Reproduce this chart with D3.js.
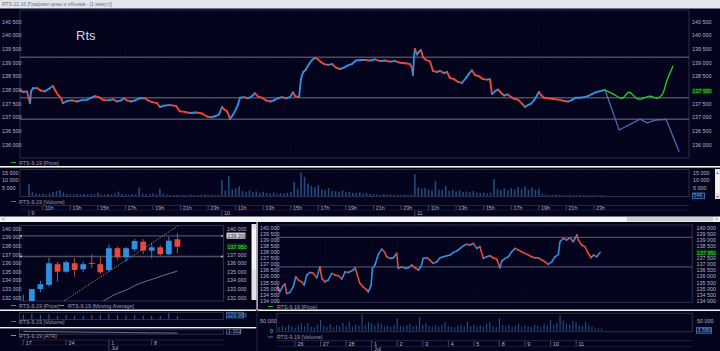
<!DOCTYPE html>
<html><head><meta charset="utf-8">
<script src="https://cdn.jsdelivr.net/npm/d3@7"></script>
<style>body{margin:0;background:#03031c}svg{display:block}text{font-family:"Liberation Sans",Arial,sans-serif}</style>
</head><body><svg id="c" width="720" height="351"></svg>
<script>
// ===== DATA =====
// Main chart (1-minute, session hours from 10:00 of Jul 9; each day = 14 h)
const mainHours = [-0.65,-0.43,-0.14,0.08,0.15,0.29,0.58,0.87,1.16,1.45,1.74,1.89,2.11,2.33,2.47,2.76,3.12,3.49,3.85,4.21,4.43,4.79,5.08,5.37,5.74,6.10,6.39,6.68,6.90,7.11,7.41,7.70,8.06,8.42,8.64,8.93,9.29,9.51,9.80,10.24,10.67,10.96,11.32,11.69,12.12,12.56,12.92,13.21,13.50,13.79,14.01,14.15,14.37,14.52,14.59,14.81,15.02,15.17,15.31,15.61,15.90,16.19,16.40,16.62,16.91,17.20,17.49,17.78,18.07,18.36,18.65,18.94,19.16,19.31,19.60,19.74,19.89,20.10,20.32,20.54,20.76,20.98,21.19,21.41,21.70,21.99,22.28,22.57,22.86,23.15,23.44,23.73,24.02,24.39,24.75,25.11,25.48,25.84,26.20,26.57,26.93,27.29,27.65,27.80,27.87,27.94,28.01,28.16,28.30,28.45,28.60,28.81,29.10,29.32,29.61,29.83,30.12,30.34,30.55,30.84,31.13,31.42,31.72,31.93,32.15,32.37,32.66,32.95,33.24,33.46,33.60,33.82,34.04,34.26,34.47,34.76,34.98,35.20,35.49,35.78,36.00,36.22,36.43,36.65,36.87,37.01,37.16,37.38,37.67,37.96,38.25,38.54,38.83,39.12,39.41,39.70,39.99,40.28,40.57,40.86,41.15,41.44,41.81];
const mainPrices = [138.00,137.93,137.95,137.52,137.95,138.07,138.07,137.98,137.95,138.05,138.15,138.00,137.82,137.70,137.52,137.60,137.62,137.58,137.63,137.64,137.70,137.78,137.74,137.64,137.62,137.66,137.58,137.62,137.70,137.62,137.58,137.62,137.70,137.70,137.62,137.56,137.52,137.38,137.43,137.45,137.42,137.22,137.20,137.16,137.18,137.14,137.03,137.00,137.04,137.10,137.38,137.30,137.22,137.05,136.94,137.10,137.30,137.46,137.72,137.74,137.70,137.78,137.88,137.76,137.72,137.62,137.58,137.62,137.70,137.74,137.70,137.74,137.92,137.78,137.74,138.40,138.65,138.75,138.95,139.10,139.18,139.12,139.02,138.95,138.92,138.95,138.82,138.77,138.82,138.90,138.95,139.08,139.10,139.10,139.08,139.12,139.06,139.08,139.04,139.06,139.00,138.98,138.95,138.80,138.55,139.20,139.50,139.30,139.40,139.46,139.20,139.10,139.05,138.70,138.66,138.70,138.62,138.66,138.44,138.40,138.30,138.26,138.44,138.60,138.72,138.55,138.50,138.40,138.38,138.40,137.85,137.95,138.02,137.90,137.80,137.84,137.75,137.68,137.65,137.50,137.38,137.45,137.50,137.62,137.80,137.93,137.82,137.72,137.70,137.68,137.66,137.64,137.60,137.58,137.64,137.72,137.72,137.74,137.78,137.85,137.92,137.96,138.00];
const fcUpHours = [41.81,42.31,43.04,43.55,44.20,45.07,45.58,45.94,46.31,46.74];
const fcUpPrices = [138.00,137.88,137.70,137.92,137.67,137.78,137.70,137.82,138.37,138.88];
const fcDownHours = [41.81,42.83,44.35,44.86,45.44,46.24,47.18];
const fcDownPrices = [138.00,136.54,136.93,136.80,136.90,136.93,135.74];
const mainLevels = [139.20,137.72,136.93];
const lastPrice = 137.95;
// Volume, 15-minute bars, thousands
const vol9 = [7.8,2.4,1.6,1.2,1.5,1.0,1.8,2.6,3.2,3.8,2.2,1.4,1.1,0.9,1.2,0.9,1.3,1.0,1.4,1.1,2.2,1.0,0.8,1.4,1.0,1.6,2.8,1.2,1.0,0.8,1.3,1.1,5.4,1.5,1.1,1.0,1.8,1.2,4.7,1.4,0.9,0.7,0.6,0.8,0.5,0.7,0.6,0.9,0.5,0.6,0.8,1.1,0.7,0.9,0.6,0.8];
const vol10 = [10.2,3.5,13.0,4.0,4.8,6.3,3.2,2.8,3.6,2.4,2.9,2.0,2.6,1.8,1.6,2.2,1.4,1.8,1.5,2.0,2.6,9.1,4.5,15.2,12.4,8.0,6.5,5.6,7.0,4.2,3.8,5.0,3.4,3.0,2.6,3.6,2.2,2.8,2.0,1.8,2.4,1.5,1.8,1.2,1.4,1.0,0.9,1.2,0.8,1.0,0.7,0.9,0.6,1.0,0.7,0.8];
const vol11 = [14.1,5.5,4.8,5.2,4.0,3.6,9.8,4.2,3.8,6.4,3.2,4.0,2.8,3.5,2.6,3.0,2.4,3.2,2.0,1.8,2.2,1.6,2.0,10.9,4.6,3.8,4.8,3.6,5.0,4.2,5.8,4.4,6.2,4.0,5.4,3.8,4.6,1.2,0.9,0.7,0.8,1.0,0.6,0.7,0.5,0.8,0.6,0.5,0.7,0.4,0.6,0.5,0.6,0.4,0.5,0.3];
const dayLabels = ["9","10","11"];
const hourLabels = [11,13,15,17,19,21,23];

// Daily chart (bottom left)
const dDates = ["17","18","19","20","21","24","25","26","27","28","1","2","3","4","5","8","9","10","11"];
const dOpen  = [130.90,131.00,133.02,133.49,135.90,135.03,136.01,135.31,136.05,135.90,135.23,137.76,136.71,137.64,138.52,137.48,137.87,137.06,138.80];
const dHigh  = [132.35,133.05,133.95,136.66,136.20,136.30,136.60,136.20,137.05,136.78,138.20,137.94,137.90,138.84,138.84,138.34,138.14,139.10,139.50];
const dLow   = [130.80,130.90,132.64,133.29,133.87,134.90,134.45,134.96,135.43,134.73,135.03,136.40,136.20,137.36,137.10,136.60,136.90,136.98,137.17];
const dClose = [131.50,133.00,133.57,136.01,135.03,136.13,135.23,135.90,135.98,134.96,137.76,136.71,137.76,138.60,137.48,137.87,137.06,138.64,137.94];
const dMA = [null,null,null,null,null,null,null,null,null,131.40,132.00,132.50,132.88,133.40,133.80,134.13,134.47,134.80,135.10];
const dVol = [420,510,380,460,330,400,350,300,380,420,480,390,360,410,350,320,300,560,330];
const dATR = [1.62,1.60,1.58,1.57,1.55,1.52,1.50,1.48,1.46,1.44,1.45,1.42,1.40,1.37,1.35,1.33,1.32,1.31,1.30];
const trendIdx = [4.0,18.5];
const trendPrice = [131.11,140.65];
const dLevels = [139.20,136.80];
const dAxisIdx = [0,5,10,15];

// Hourly chart (bottom right), t in trading days from Jun 26
const hT = [-0.68,-0.60,-0.46,-0.39,-0.33,-0.20,-0.07,0.03,0.13,0.26,0.36,0.46,0.59,0.72,0.85,0.98,1.05,1.17,1.30,1.44,1.57,1.70,1.83,1.96,2.09,2.28,2.35,2.42,2.54,2.67,2.81,2.87,2.98,3.03,3.13,3.26,3.39,3.50,3.59,3.72,3.85,3.98,4.04,4.18,4.31,4.43,4.57,4.70,4.83,4.93,5.02,5.16,5.28,5.41,5.55,5.68,5.80,5.94,6.07,6.20,6.33,6.46,6.59,6.72,6.85,6.98,7.11,7.24,7.37,7.50,7.63,7.76,7.89,8.02,8.09,8.22,8.35,8.48,8.61,8.74,8.87,9.00,9.13,9.26,9.39,9.52,9.66,9.79,9.91,10.05,10.18,10.31,10.37,10.50,10.63,10.76,10.89,11.03,11.09,11.22,11.35,11.48,11.59,11.68,11.81,11.94];
const hP = [135.16,134.75,135.25,135.39,134.62,134.70,135.16,135.98,135.71,135.57,135.30,136.12,136.34,136.26,135.90,136.80,135.85,135.57,135.71,136.26,136.12,136.07,135.80,136.39,136.34,136.53,136.72,136.26,135.44,135.16,134.89,134.75,135.30,136.67,136.94,137.82,138.25,138.03,137.62,137.49,137.54,137.90,136.67,136.80,136.67,136.72,136.94,136.72,136.53,136.80,137.49,137.54,137.35,137.08,137.21,137.54,137.62,137.70,137.76,137.98,138.09,138.31,138.52,138.64,138.58,138.72,138.31,138.44,137.49,137.62,137.70,137.54,137.43,136.72,137.27,137.49,137.62,138.03,138.31,138.17,138.03,137.90,137.76,137.62,137.54,137.54,137.35,137.21,137.00,137.21,137.62,137.82,138.85,139.13,138.99,139.18,138.85,139.40,138.99,138.58,138.44,137.90,137.54,137.76,137.62,137.98];
const hVol = [20,25,18,30,22,15,28,38,25,40,22,18,30,55,25,20,35,18,28,22,40,24,46,20,32,26,81,30,45,38,28,40,35,22,26,18,30,64,24,20,28,35,22,26,72,30,38,24,20,28,22,30,45,25,20,18,26,30,22,46,24,30,20,28,22,36,46,24,20,64,28,22,30,18,24,35,20,26,22,18,30,25,20,36,28,55,30,40,81,52,38,30,50,44,28,24,47,30,22,15,12,10];
const hDays = ["26","27","28","1","2","3","4","5","8","9","10","11"];
const hLevels = [139.20,136.80];

// ===== DRAW =====
const svg = d3.select("#c");
const BG="#03031c", FRAME="#2d2d50", GRID="#0e0e36", LBL="#b4b4c6", LEG="#9a9ab4",
      RED="#e5493b", BLUE="#2f90de", LEVEL="#4c4c60", VOLC="#214d7e";
const loc = d3.formatLocale({decimal:".",thousands:" ",grouping:[3],currency:["",""]});
const fI = loc.format(",d");
const fP = v => fI(Math.round(v*1000));

function T(x,y,s,o={}){
  return svg.append("text").attr("x",x).attr("y",y).text(s)
    .attr("font-size",o.size||5.4).attr("fill",o.fill||LBL)
    .attr("text-anchor",o.anchor||"start").attr("font-weight",o.weight||"normal");
}
function R(x,y,w,h,fill,stroke){
  const r=svg.append("rect").attr("x",x).attr("y",y).attr("width",w).attr("height",h).attr("fill",fill||"none");
  if(stroke) r.attr("stroke",stroke).attr("stroke-width",1);
  return r;
}
function L(x1,y1,x2,y2,c,w,dash){
  const l=svg.append("line").attr("x1",x1).attr("y1",y1).attr("x2",x2).attr("y2",y2).attr("stroke",c).attr("stroke-width",w||1);
  if(dash) l.attr("stroke-dasharray",dash);
  return l;
}
function clip(id,x,y,w,h){
  svg.append("clipPath").attr("id",id).append("rect").attr("x",x).attr("y",y).attr("width",w).attr("height",h);
  return svg.append("g").attr("clip-path",`url(#${id})`);
}
function series(g,xs,ys,xs_,ys_,w){
  for(let i=1;i<xs.length;i++){
    g.append("line").attr("x1",xs_(xs[i-1])).attr("y1",ys_(ys[i-1]))
      .attr("x2",xs_(xs[i])).attr("y2",ys_(ys[i]))
      .attr("stroke",ys[i]>=ys[i-1]?BLUE:RED).attr("stroke-width",w).attr("stroke-linecap","round");
  }
}
function priceBox(x,y,s,fill,bg,stroke){
  R(x-0.5,y-3.3,19,6.2,bg,stroke);
  T(x+0.5,y+1.9,s,{fill});
}

R(0,0,720,351,BG);
// title bar
R(0,0,720,8.5,"#e1e6ed");
T(2,6.3,"RTS-12.16 [Графики цены и объема - [1 минут]]",{fill:"#707080",size:5});

// ---- main price panel ----
const xM = d3.scaleLinear().domain([-0.65,47.9]).range([20,689]);
const yM = d3.scaleLinear().domain([136,140.5]).range([144.7,21.7]);
const mTicks = d3.range(136,140.51,0.5);
mTicks.forEach(v=>L(20,yM(v),689,yM(v),GRID,0.8,"1,2"));
const hourPos=[];
[0,14,28].forEach(d0=>hourLabels.forEach(h=>hourPos.push({h:d0+h-10,lab:h+"h"})));
hourPos.forEach(p=>L(xM(p.h),10,xM(p.h),158,GRID,0.8,"1,2"));
R(20,10,669,148,"none",FRAME);
mainLevels.forEach(v=>L(20,yM(v),689,yM(v),LEVEL,1.4));
T(76,40,"Rts",{size:13,fill:"#d6d6e2"});
const gM = clip("cm",20,10,669,148);
series(gM,mainHours,mainPrices,xM,yM,1.9);
const lineGen=(xs,ys)=>d3.line().x(i=>xM(xs[i])).y(i=>yM(ys[i]));
gM.append("path").attr("d",lineGen(fcUpHours,fcUpPrices).curve(d3.curveCatmullRom)(d3.range(fcUpHours.length)))
  .attr("fill","none").attr("stroke","#27d827").attr("stroke-width",1.3);
gM.append("path").attr("d",lineGen(fcDownHours,fcDownPrices)(d3.range(fcDownHours.length)))
  .attr("fill","none").attr("stroke","#4d72c6").attr("stroke-width",1.2);
mTicks.forEach(v=>{
  T(2,yM(v)+1.9,fP(v));
  if(Math.abs(yM(v)-yM(lastPrice))>5) T(692,yM(v)+1.9,fP(v));
});
priceBox(692,yM(lastPrice),fP(lastPrice),"#3cf03c","#08300c");
L(11,162.5,16,162.5,"#2fae2f",1);
T(19,164.5,"RTS-9.19 [Price]",{fill:LEG});

// separator
R(0,166,720,1.6,"#f2f2f2");

// ---- main volume panel ----
const yV = d3.scaleLinear().domain([0,15]).range([195.9,172.9]);
[5,10,15].forEach(v=>L(20,yV(v),689,yV(v),GRID,0.8,"1,2"));
hourPos.forEach(p=>L(xM(p.h),169.5,xM(p.h),196.5,GRID,0.8,"1,2"));
R(20,169.5,669,27,"none",FRAME);
const gV = clip("cv",20,169.5,669,27);
[[vol9,0],[vol10,14],[vol11,28]].forEach(([arr,d0])=>{
  arr.forEach((v,i)=>{
    const x=xM(d0+i*0.25);
    gV.append("rect").attr("x",x-0.8).attr("y",yV(v)).attr("width",1.6).attr("height",yV(0)-yV(v)).attr("fill",VOLC);
  });
});
[5,10,15].forEach(v=>{T(2,yV(v)+1.9,fI(v*1000));T(693,yV(v)+1.9,fI(v*1000));});
R(692.5,193,12,5.6,"#0a1838","#3a6aa8");
T(693.5,197.4,"546",{fill:"#5aa2ea"});
L(11,201.5,16,201.5,"#3a78c0",1);
T(19,203.5,"RTS-9.19 [Volume]",{fill:LEG});
// vertical scrollbar
R(715,169,5,30,"#e4e4e4");
R(715.5,175,4,18,"#f4f4f4");
T(717.5,173.5,"▲",{size:3.5,fill:"#666",anchor:"middle"});
T(717.5,198,"▼",{size:3.5,fill:"#666",anchor:"middle"});
// time axis
L(20,205.5,689,205.5,FRAME,0.8);
hourPos.forEach(p=>{const x=xM(p.h);L(x,205.5,x,210,"#55557a",0.8);T(x+2.2,209.6,p.lab);});
[0,14,28].forEach((d0,i)=>{const x=xM(d0);L(x,210,x,216,"#55557a",0.8);T(x+2.2,214.8,dayLabels[i]);});
L(20,210,689,210,FRAME,0.5);
// horizontal scrollbar
R(0,216.5,720,5.5,"#f3f3f3");
R(627,217,86,4.5,"#cfcfcf");
T(2,221,"<",{size:5,fill:"#555"});
T(715,221,">",{size:5,fill:"#555"});

// ---- bottom-left daily window ----
const xD = d3.scaleLinear().domain([0,18]).range([23.3,177.4]);
const yD = d3.scaleLinear().domain([132,140]).range([297.7,229]);
const dTicks = d3.range(132,140.01,1);
dTicks.forEach(v=>L(19.5,yD(v),223.5,yD(v),GRID,0.8,"1,2"));
dAxisIdx.forEach(i=>L(xD(i),225.5,xD(i),301,GRID,0.8,"1,2"));
R(19.5,225.5,204,75.5,"none",FRAME);
dLevels.forEach(v=>{L(19.5,yD(v),223.5,yD(v),LEVEL,1.3);
  svg.append("circle").attr("cx",21).attr("cy",yD(v)).attr("r",0.9).attr("fill","#ccc");
  svg.append("circle").attr("cx",222).attr("cy",yD(v)).attr("r",0.9).attr("fill","#ccc");});
const gD = clip("cd",19.5,225.5,204,75.5);
dDates.forEach((d,i)=>{
  const up=dClose[i]>=dOpen[i], c=up?BLUE:RED, x=xD(i);
  gD.append("line").attr("x1",x).attr("x2",x).attr("y1",yD(dHigh[i])).attr("y2",yD(dLow[i])).attr("stroke",c).attr("stroke-width",0.9);
  const y1=yD(Math.max(dOpen[i],dClose[i])), y2=yD(Math.min(dOpen[i],dClose[i]));
  gD.append("rect").attr("x",x-2.9).attr("y",y1).attr("width",5.8).attr("height",Math.max(1,y2-y1)).attr("fill",c);
});
const maIdx=d3.range(dMA.length).filter(i=>dMA[i]!==null);
gD.append("path").attr("d",d3.line().x(i=>xD(i)).y(i=>yD(dMA[i])).curve(d3.curveMonotoneX)(maIdx))
  .attr("fill","none").attr("stroke","#8a8fa0").attr("stroke-width",0.8);
gD.append("line").attr("x1",xD(trendIdx[0])).attr("y1",yD(trendPrice[0])).attr("x2",xD(trendIdx[1])).attr("y2",yD(trendPrice[1]))
  .attr("stroke","#c98a88").attr("stroke-width",0.9).attr("stroke-dasharray","1.2,1.4");
dTicks.forEach(v=>{
  T(2,yD(v)+1.9,fP(v));
  if(Math.abs(yD(v)-yD(lastPrice))>4 && Math.abs(yD(v)-yD(dLevels[0]))>4) T(227,yD(v)+1.9,fP(v));
});
priceBox(227,yD(dLevels[0]),fP(dLevels[0]),"#303040","#cfcfd6");
priceBox(227,yD(lastPrice),fP(lastPrice),"#3cf03c","#08300c");
L(11,305.5,16,305.5,"#2fae2f",1);
T(19,307.5,"RTS-9.19 [Price]",{fill:LEG});
L(59,305.5,64,305.5,"#8a8fa0",1);
T(68,307.5,"RTS-9.19 [Moving Average]",{fill:LEG});
// scrollbar
R(251.5,224,5,76,"#e2e2e2");
R(252,229,4,40,"#f5f5f5");
R(0,309.5,256.5,1.5,"#f2f2f2");
// daily volume
const yDV = d3.scaleLinear().domain([0,600]).range([319.3,312.8]);
R(19.5,312.5,204,7,"none",FRAME);
dVol.forEach((v,i)=>L(xD(i),yDV(0),xD(i),yDV(v),"#4f78a8",0.8));
R(226.5,312.3,17,5.6,"#0a1838","#3a6aa8");
T(227.3,316.7,fI(329963),{fill:"#5aa2ea"});
L(11,321.5,16,321.5,"#3a78c0",1);
T(19,323.5,"RTS-9.19 [Volume]",{fill:LEG});
R(0,327,256.5,1.4,"#f2f2f2");
// ATR
const yA = d3.scaleLinear().domain([1.0,2.0]).range([334.5,329.5]);
R(19.5,329.8,204,4.4,"none",FRAME);
svg.append("path").attr("d",d3.line().x((d,i)=>xD(i)).y(d=>yA(d))(dATR)).attr("fill","none").attr("stroke","#8a8fa0").attr("stroke-width",0.8);
R(226.5,328.8,14,5.4,"#0a0a24","#55557a");
T(228,333,fI(1302),{fill:"#9a9ab4"});
L(11,335.5,16,335.5,"#8a8fa0",1);
T(19,337.5,"RTS-9.19 [ATR]",{fill:LEG});
// daily axis
L(19.5,340,223.5,340,FRAME,0.8);
dAxisIdx.forEach(i=>{const x=xD(i);L(x,340,x,345,"#55557a",0.8);T(x+2.4,344.5,dDates[i]);});
L(xD(10),345,xD(10),351,"#55557a",0.8);
T(xD(10)+2.4,350.3,"Jul");
L(19.5,345,223.5,345,FRAME,0.5);

// divider between windows
R(256.5,222,1.2,88,"#e8e8e8");
R(256.5,310,1.2,41,"#20203a");

// ---- bottom-right hourly window ----
const xH = d3.scaleLinear().domain([0,1]).range([295,320.55]);
const yH = d3.scaleLinear().domain([134,140]).range([301,227.7]);
const hTicks = d3.range(134,140.01,0.5);
hTicks.forEach(v=>L(276.7,yH(v),692.3,yH(v),GRID,0.8,"1,2"));
hDays.forEach((d,i)=>L(xH(i),225,xH(i),302.3,GRID,0.8,"1,2"));
R(276.7,225,415.6,77.3,"none",FRAME);
hLevels.forEach(v=>L(276.7,yH(v),692.3,yH(v),LEVEL,1.3));
const gH = clip("ch",276.7,225,415.6,77.3);
series(gH,hT,hP,xH,yH,1.6);
hTicks.forEach(v=>{
  T(260,yH(v)+1.9,fP(v));
  if(Math.abs(yH(v)-yH(lastPrice))>4) T(696.5,yH(v)+1.9,fP(v));
});
priceBox(696.5,yH(lastPrice),fP(lastPrice),"#3cf03c","#08300c");
L(268,306.5,273,306.5,"#2fae2f",1);
T(277,308.5,"RTS-9.19 [Price]",{fill:LEG});
R(257.7,309.5,462.3,1.5,"#f2f2f2");
// hourly volume
const yHV = d3.scaleLinear().domain([0,50]).range([330.7,321]);
R(276.7,313.3,415.6,18.4,"none",FRAME);
const gHV = clip("chv",276.7,313.3,415.6,18.4);
hVol.forEach((v,i)=>{
  const x=xH(-0.625+i*0.125);
  gHV.append("rect").attr("x",x-0.6).attr("y",yHV(v)).attr("width",1.2).attr("height",yHV(0)-yHV(v)).attr("fill",VOLC);
});
T(260,yHV(50)+1.9,fI(50000));
T(270,yHV(0)+1.9,"0");
T(697,yHV(50)+1.9,fI(50000));
R(696.5,327.6,15,5.6,"#0a1838","#3a6aa8");
T(697.5,332,fI(3580),{fill:"#5aa2ea"});
L(268,337,273,337,"#3a78c0",1);
T(277,339,"RTS-9.19 [Volume]",{fill:LEG});
// hourly axis
L(276.7,340.7,692.3,340.7,FRAME,0.8);
hDays.forEach((d,i)=>{const x=xH(i);L(x,340.7,x,346.5,"#55557a",0.8);T(x+2.4,345.8,d);});
L(xH(3),346.5,xH(3),351,"#55557a",0.8);
T(xH(3)+2.4,350.5,"Jul");
L(276.7,346.5,692.3,346.5,FRAME,0.5);
</script></body></html>
